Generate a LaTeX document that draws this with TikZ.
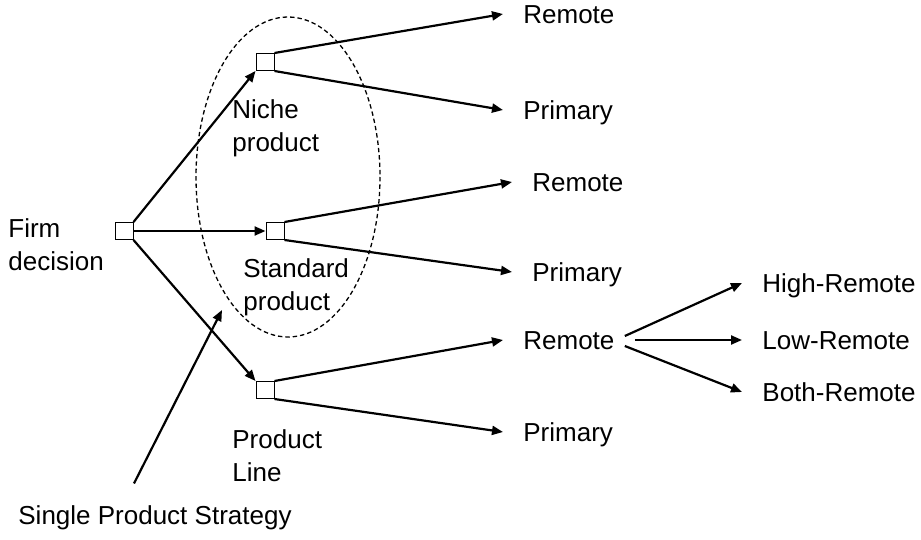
\documentclass[tikz,border=0pt]{standalone}
\usepackage{fontspec}
\setmainfont{Liberation Sans}
\usetikzlibrary{arrows.meta,positioning}

\begin{document}
\begin{tikzpicture}[x=0.5pt, y=-0.5pt,
    dbox/.style={draw, line width=0.5pt, minimum width=9pt, minimum height=8.5pt, inner sep=0pt},
    lbl/.style={anchor=west, inner xsep=10pt, inner ysep=0pt, text height=9.3pt, text depth=0pt,
        font=\fontsize{13pt}{16.5pt}\selectfont},
    txt/.style={anchor=west, inner sep=0pt, align=left, font=\fontsize{13pt}{16.5pt}\selectfont},
    arr/.style={-{Triangle[length=5.5pt, width=4.5pt]}, line width=1.1pt}]
    \useasboundingbox (0,0) rectangle (921,540);

    % Decision boxes
    \node[dbox] (firm) at (124,231) {};
    \node[dbox] (niche) at (265,62) {};
    \node[dbox] (standard) at (275,231) {};
    \node[dbox] (pline) at (265,390) {};

    % Box labels
    \node[txt] (firmlbl) at (8,245) {Firm\\decision};
    \node[txt] (nichelbl) at (232,128) {Niche\\product};
    \node[txt] (standardlbl) at (243,287) {Standard\\product};
    \node[txt] (plinelbl) at (232,456) {Product\\Line};
    \node[txt] (sps) at (18,518) {Single Product Strategy};

    % Outcomes
    \node[lbl] (nremote) at (503,14) {Remote};
    \node[lbl] (nprimary) at (503,110) {Primary};
    \node[lbl] (sremote) at (512,182) {Remote};
    \node[lbl] (sprimary) at (512,272) {Primary};
    \node[lbl] (premote) at (503,340) {Remote};
    \node[lbl] (pprimary) at (503,432) {Primary};
    \node[lbl] (high) at (742,283) {High-Remote};
    \node[lbl] (low) at (742,340) {Low-Remote};
    \node[lbl] (both) at (742,392) {Both-Remote};

    % First stage
    \draw[arr] (firm.north east) -- (niche.south west);
    \draw[arr] (firm.east) -- (standard.west);
    \draw[arr] (firm.south east) -- (pline.north west);

    % Second stage
    \foreach \b/\r/\p in {niche/nremote/nprimary, standard/sremote/sprimary, pline/premote/pprimary} {
        \draw[arr] (\b.north east) -- (\r.west);
        \draw[arr] (\b.south east) -- (\p.west);
    }

    % Remote split
    \draw[arr] ([shift={(-10,-4)}]premote.east) -- (high.west);
    \draw[arr] (premote.east) -- (low.west);
    \draw[arr] ([shift={(-10,6)}]premote.east) -- (both.west);

    % Single product strategy
    \draw[dashed, dash pattern=on 2.2pt off 1.5pt, line width=0.65pt] (288,177) ellipse [x radius=92, y radius=160];
    \coordinate (spstip) at (222,310);
    \draw[arr] ([shift={(-21,-22)}]sps.north) -- (spstip);
\end{tikzpicture}
\end{document}
